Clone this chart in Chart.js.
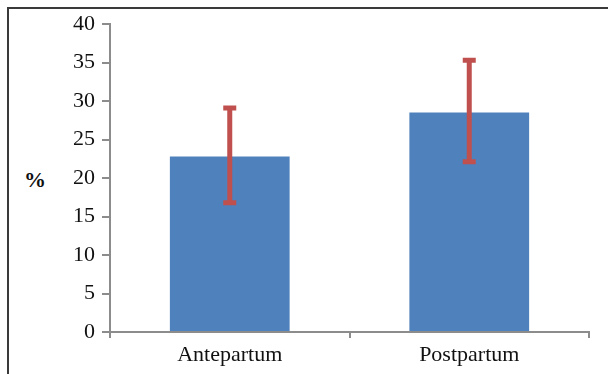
<!DOCTYPE html>
<html>
<head>
<meta charset="utf-8">
<script src="https://cdn.jsdelivr.net/npm/chart.js@4"></script>
<style>
  body { margin: 0; background: #fff; }
  #wrap { position: relative; width: 608px; height: 374px; }
  #frame { position: absolute; left: 7px; top: 7px; right: 0; bottom: 0; border-top: 2px solid #3a3a3a; border-left: 2px solid #3a3a3a; }
  #ylab { position: absolute; left: 24px; top: 167px; font: bold 22px "Liberation Serif", serif; color: #111; }
  canvas { position: absolute; left: 0; top: 0; }
</style>
</head>
<body>
<div id="wrap">
  <div id="frame"></div>
  <div id="ylab">%</div>
  <canvas id="chart" width="608" height="374"></canvas>
</div>
<script>
// values
const categories = ["Antepartum", "Postpartum"];
const means = [22.8, 28.5];
const errLow = [16.8, 22.1];
const errHigh = [29.1, 35.3];

const axisGray = "#8c8c8c";

// custom error bars, drawn through the y scale
const errorBars = {
  id: "errorBars",
  afterDatasetsDraw(chart) {
    const ctx = chart.ctx;
    const y = chart.scales.y;
    const meta = chart.getDatasetMeta(0);
    ctx.save();
    ctx.strokeStyle = "#c0504d";
    ctx.lineWidth = 5;
    meta.data.forEach((bar, i) => {
      const x = bar.x;
      const top = y.getPixelForValue(errHigh[i]);
      const bot = y.getPixelForValue(errLow[i]);
      ctx.beginPath();
      ctx.moveTo(x, top);
      ctx.lineTo(x, bot);
      ctx.moveTo(x - 6.5, top);
      ctx.lineTo(x + 6.5, top);
      ctx.moveTo(x - 6.5, bot);
      ctx.lineTo(x + 6.5, bot);
      ctx.stroke();
    });
    ctx.restore();
  }
};

new Chart(document.getElementById("chart"), {
  type: "bar",
  data: {
    labels: categories,
    datasets: [{
      data: means,
      backgroundColor: "#4f81bd",
      borderWidth: 0,
      barPercentage: 0.5,
      categoryPercentage: 1.0
    }]
  },
  options: {
    responsive: false,
    animation: false,
    devicePixelRatio: 1,
    layout: { padding: { left: 10, right: 19, top: 24, bottom: 0 } },
    plugins: { legend: { display: false }, tooltip: { enabled: false } },
    scales: {
      x: {
        offset: true,
        grid: { offset: true, drawOnChartArea: false, tickLength: 6, color: axisGray, lineWidth: 2 },
        border: { color: axisGray, width: 2 },
        ticks: { color: "#111", padding: 4, font: { family: "Liberation Serif", size: 22 } },
        afterFit(s) { s.height = 42; }
      },
      y: {
        min: 0,
        max: 40,
        grid: { drawOnChartArea: false, tickLength: 8, color: axisGray, lineWidth: 2 },
        border: { color: axisGray, width: 2 },
        ticks: { stepSize: 5, color: "#111", padding: 7, font: { family: "Liberation Serif", size: 22 } },
        afterFit(s) { s.width = 100; }
      }
    }
  },
  plugins: [errorBars]
});
</script>
</body>
</html>
